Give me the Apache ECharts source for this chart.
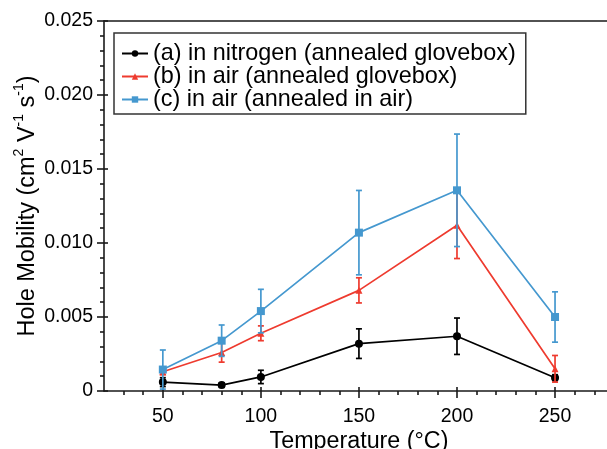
<!DOCTYPE html>
<html>
<head>
<meta charset="utf-8">
<script src="https://cdn.jsdelivr.net/npm/echarts@6/dist/echarts.min.js"></script>
<style>
  html, body { margin: 0; padding: 0; background: #fff; }
  #chart { width: 607px; height: 449px; }
</style>
</head>
<body>
<div id="chart"></div>
<script>
// Annealing temperature (°C)
const temps = [50, 80, 100, 150, 200, 250];

// Hole mobility (cm² V⁻¹ s⁻¹) and symmetric error
const nitrogenGlovebox    = [0.0006, 0.0004, 0.00095, 0.0032, 0.0037, 0.0009];
const nitrogenGloveboxErr = [0.0003, 0.00015, 0.00045, 0.001, 0.00123, 0.0002];
const airGlovebox         = [0.0013, 0.0026, 0.0039, 0.0068, 0.0112, 0.0015];
const airGloveboxErr      = [0.0002, 0.00065, 0.0005, 0.00085, 0.00225, 0.0009];
const airAir              = [0.00145, 0.0034, 0.0054, 0.0107, 0.01356, 0.005];
const airAirErr           = [0.00132, 0.00106, 0.00147, 0.00285, 0.0038, 0.0017];

const seriesNames = [
  '(a) in nitrogen (annealed glovebox)',
  '(b) in air (annealed glovebox)',
  '(c) in air (annealed in air)'
];

// Tick positions
const xMajorTicks = [50, 100, 150, 200, 250];
const xMinorTicks = [30, 40, 60, 70, 80, 90, 110, 120, 130, 140, 160, 170, 180, 190, 210, 220, 230, 240, 260, 270];

const colors = ['#000000', '#ee3b2f', '#4598cf'];
const symbols = ['circle', 'triangle', 'rect'];
const symbolSizes = [8, 7, 8];
const FONT = '"Liberation Sans", Arial, Helvetica, sans-serif';

const values = [nitrogenGlovebox, airGlovebox, airAir];
const errors = [nitrogenGloveboxErr, airGloveboxErr, airAirErr];

function errorBarRenderer(color) {
  return function (params, api) {
    const x = api.value(0), y = api.value(1), e = api.value(2);
    const top = api.coord([x, y + e]);
    const bot = api.coord([x, y - e]);
    const hw = 3;
    const style = { stroke: color, lineWidth: 1.7 };
    return {
      type: 'group',
      children: [
        { type: 'line', shape: { x1: top[0], y1: top[1], x2: bot[0], y2: bot[1] }, style },
        { type: 'line', shape: { x1: top[0] - hw, y1: top[1], x2: top[0] + hw, y2: top[1] }, style },
        { type: 'line', shape: { x1: bot[0] - hw, y1: bot[1], x2: bot[0] + hw, y2: bot[1] }, style }
      ]
    };
  };
}

const series = [];
values.forEach((vals, i) => {
  series.push({
    name: seriesNames[i] + ' error',
    type: 'custom',
    xAxisIndex: 0,
    yAxisIndex: 0,
    renderItem: errorBarRenderer(colors[i]),
    encode: { x: 0, y: 1 },
    data: temps.map((t, k) => [t, vals[k], errors[i][k]]),
    z: 2 + i
  });
});
values.forEach((vals, i) => {
  series.push({
    name: seriesNames[i],
    type: 'line',
    xAxisIndex: 0,
    yAxisIndex: 0,
    data: temps.map((t, k) => [t, vals[k]]),
    symbol: symbols[i],
    symbolSize: symbolSizes[i],
    showSymbol: true,
    color: colors[i],
    itemStyle: { color: colors[i] },
    lineStyle: { color: colors[i], width: 1.7 },
    z: 2 + i
  });
});

const axisLineStyle = { color: '#1a1a1a', width: 1.6 };
const xRange = { min: 20, max: 276.5 };

const chart = echarts.init(document.getElementById('chart'), null, { renderer: 'canvas' });
chart.setOption({
  animation: false,
  backgroundColor: '#ffffff',
  textStyle: { fontFamily: FONT },
  grid: { left: 104, right: 0, top: 21, bottom: 58, containLabel: false, outerBoundsMode: 'none' },
  legend: {
    data: seriesNames,
    orient: 'vertical',
    left: 114,
    top: 33,
    padding: [9, 10, 3, 7],
    itemGap: 0,
    itemWidth: 26,
    itemHeight: 8,
    borderColor: '#333',
    borderWidth: 1.5,
    textStyle: { fontFamily: FONT, fontSize: 23.4, color: '#000', lineHeight: 22 }
  },
  xAxis: [
    {
      type: 'value', position: 'bottom', ...xRange,
      name: 'Temperature (°C)',
      nameLocation: 'middle',
      nameGap: 39,
      nameMoveOverlap: false,
      nameTextStyle: { fontFamily: FONT, fontSize: 23.3, color: '#000', verticalAlign: 'top', padding: [0, 0, 0, 7] },
      axisLine: { show: true, lineStyle: axisLineStyle },
      axisTick: { show: true, customValues: xMajorTicks, length: 7, lineStyle: axisLineStyle },
      axisLabel: { customValues: xMajorTicks, fontFamily: FONT, fontSize: 19.5, color: '#000', margin: 16 },
      splitLine: { show: false }
    },
    {
      // minor ticks, outside
      type: 'value', position: 'bottom', ...xRange,
      axisLine: { show: false },
      axisTick: { show: true, customValues: xMinorTicks, length: 4, lineStyle: axisLineStyle },
      axisLabel: { show: false },
      splitLine: { show: false }
    },
    {
      // major ticks crossing into the plot
      type: 'value', position: 'bottom', ...xRange,
      axisLine: { show: false },
      axisTick: { show: true, inside: true, customValues: xMajorTicks, length: 4, lineStyle: axisLineStyle },
      axisLabel: { show: false },
      splitLine: { show: false }
    },
    {
      // top frame
      type: 'value', position: 'top', ...xRange,
      axisLine: { show: true, lineStyle: axisLineStyle },
      axisTick: { show: false },
      axisLabel: { show: false },
      splitLine: { show: false }
    }
  ],
  yAxis: [
    {
      type: 'value', position: 'left',
      min: 0, max: 0.025, interval: 0.005,
      name: '{a|Hole Mobility (cm}{s|2}{a| V}{s|-1}{a| s}{s|-1}{a|)}',
      nameLocation: 'middle',
      nameGap: 64,
      nameRotate: 90,
      nameMoveOverlap: false,
      nameTextStyle: {
        fontFamily: FONT, fontSize: 23.5, color: '#000',
        rich: {
          a: { fontFamily: FONT, fontSize: 23.5, color: '#000', lineHeight: 30, verticalAlign: 'bottom' },
          s: { fontFamily: FONT, fontSize: 14, color: '#000', lineHeight: 30, verticalAlign: 'top', padding: [2, 0, 0, 0] }
        }
      },
      axisLine: { show: true, lineStyle: axisLineStyle },
      axisTick: { show: true, length: 7, lineStyle: axisLineStyle },
      minorTick: { show: true, splitNumber: 5, length: 4, lineStyle: axisLineStyle },
      axisLabel: {
        fontFamily: FONT, fontSize: 19.5, color: '#000', margin: 11,
        formatter: v => (v === 0 ? '0' : v.toFixed(3))
      },
      splitLine: { show: false },
      minorSplitLine: { show: false }
    },
    {
      // major ticks crossing into the plot
      type: 'value', position: 'left',
      min: 0, max: 0.025, interval: 0.005,
      axisLine: { show: false },
      axisTick: { show: true, inside: true, length: 4, lineStyle: axisLineStyle },
      axisLabel: { show: false },
      splitLine: { show: false }
    }
  ],
  series
});
</script>
</body>
</html>
